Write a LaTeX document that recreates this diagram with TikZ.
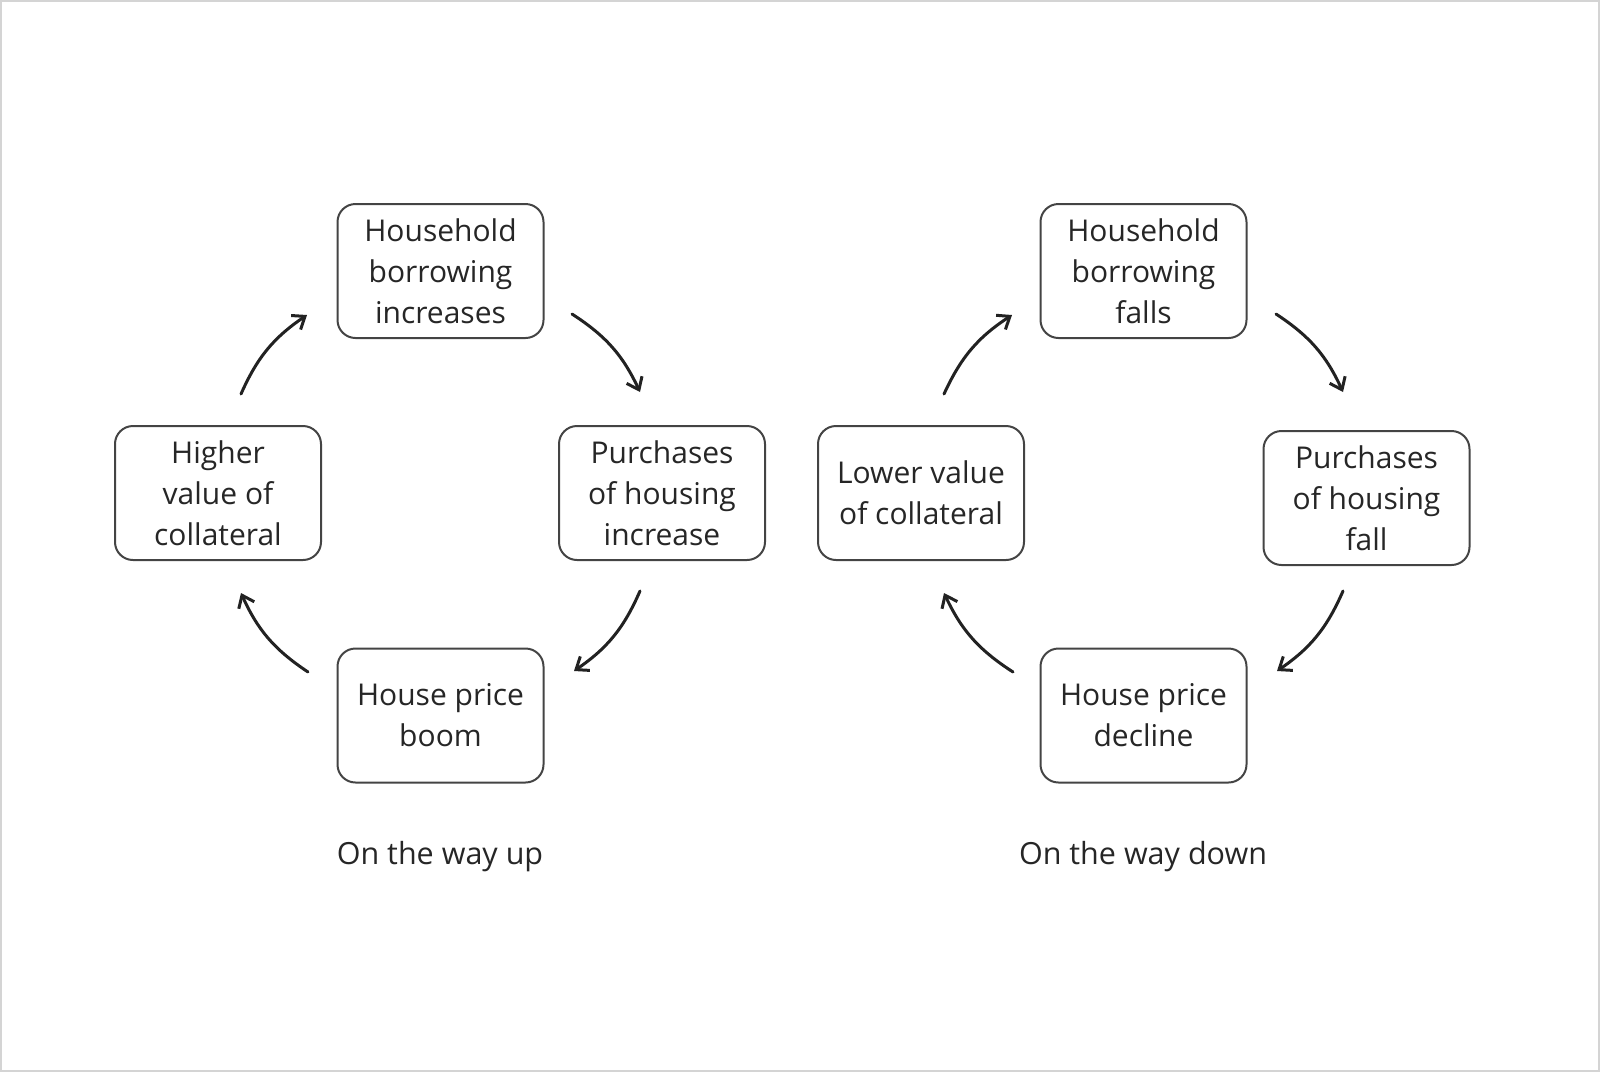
\documentclass[tikz,border=0pt]{standalone}
\usepackage{fontspec}
\setmainfont{Open Sans}
\usetikzlibrary{arrows.meta}
\definecolor{txt}{HTML}{262626}
\definecolor{boxline}{HTML}{444444}
\definecolor{arr}{HTML}{222222}
\definecolor{frame}{HTML}{D4D4D4}
\begin{document}
\begin{tikzpicture}[x=1pt,y=1pt,
  cbox/.style={draw=boxline, line width=2pt, rounded corners=18pt,
    minimum width=206pt, minimum height=134pt, align=center,
    text=txt, font=\fontsize{30}{41}\selectfont, inner sep=0pt},
  captext/.style={text=txt, font=\fontsize{30.5}{41}\selectfont},
  cyc/.style={draw=arr, line width=3pt, line cap=round,
    -{Straight Barb[length=11pt,width=17pt,line width=3pt]}, bend left=16}
]
\useasboundingbox (0,0) rectangle (1600,-1072);
\draw[frame, line width=2pt] (1,-1) rectangle (1599,-1071);

% Left cycle
\node[cbox] (lt) at (440.5,-271) {Household\\borrowing\\increases};
\node[cbox] (ll) at (218,-493) {Higher\\value of\\collateral};
\node[cbox] (lr) at (662,-493) {Purchases\\of housing\\increase};
\node[cbox] (lb) at (440.5,-715.5) {House price\\boom};
\node[captext] (lcap) at (440,-857) {On the way up};

\coordinate (a1s) at (572,-314); \coordinate (a1e) at (640,-392);
\coordinate (a2s) at (640,-591); \coordinate (a2e) at (574,-671);
\coordinate (a3s) at (308,-672); \coordinate (a3e) at (241,-593);
\coordinate (a4s) at (241,-394); \coordinate (a4e) at (307,-315);
\draw[cyc] (a1s) to (a1e);
\draw[cyc] (a2s) to (a2e);
\draw[cyc] (a3s) to (a3e);
\draw[cyc] (a4s) to (a4e);

% Right cycle
\node[cbox] (rt) at (1143.5,-271) {Household\\borrowing\\falls};
\node[cbox] (rl) at (921,-493) {Lower value\\of collateral};
\node[cbox] (rr) at (1366.5,-498) {Purchases\\of housing\\fall};
\node[cbox] (rb) at (1143.5,-715.5) {House price\\decline};
\node[captext] (rcap) at (1143,-857) {On the way down};

\coordinate (b1s) at (1276,-314); \coordinate (b1e) at (1343,-392);
\coordinate (b2s) at (1343,-591); \coordinate (b2e) at (1277,-671);
\coordinate (b3s) at (1013,-672); \coordinate (b3e) at (944,-593);
\coordinate (b4s) at (944,-394); \coordinate (b4e) at (1012,-315);
\draw[cyc] (b1s) to (b1e);
\draw[cyc] (b2s) to (b2e);
\draw[cyc] (b3s) to (b3e);
\draw[cyc] (b4s) to (b4e);
\end{tikzpicture}
\end{document}
